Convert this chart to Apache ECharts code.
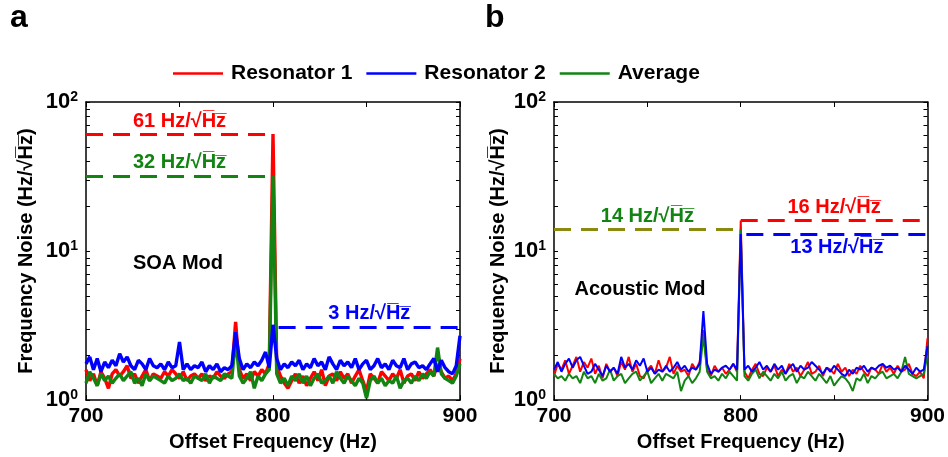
<!DOCTYPE html>
<html>
<head>
<meta charset="utf-8">
<script src="https://cdn.jsdelivr.net/npm/echarts@6/dist/echarts.min.js"></script>
<style>
  html,body{margin:0;padding:0;background:#fff;}
  #chart{width:948px;height:457px;}
</style>
</head>
<body>
<div id="chart"></div>
<script>
'use strict';
// offset frequency, 2 Hz steps from 700 to 900
var freq = [];
for (var f = 700; f <= 900; f += 2) { freq.push(f); }

// panel a : SOA modulation
var res1A = [
  1.6,1.35,1.5,1.25,1.55,1.4,1.2,1.5,1.6,1.45,
  1.55,1.7,1.4,1.5,1.3,1.45,1.6,1.35,1.5,1.45,
  1.4,1.55,1.45,1.6,1.5,1.4,1.55,1.35,1.45,1.5,
  1.4,1.5,1.35,1.45,1.4,1.55,1.45,1.4,1.5,1.55,
  3.35,1.6,1.4,1.5,1.35,1.55,1.45,1.6,1.5,1.75,
  61,1.7,1.45,1.3,1.2,1.35,1.5,1.3,1.45,1.25,
  1.4,1.55,1.35,1.6,1.25,1.45,1.5,1.35,1.55,1.4,
  1.5,1.3,1.45,1.6,1.35,1.15,1.5,1.4,1.3,1.55,
  1.45,1.35,1.5,1.4,1.6,1.3,1.45,1.5,1.35,1.55,
  1.4,1.5,1.6,1.45,1.75,1.55,1.4,1.45,1.35,1.5,
  1.9
];
var res2A = [
  1.75,1.95,1.6,1.9,1.55,1.8,1.65,1.85,1.7,2.05,
  1.8,1.95,1.7,1.6,1.85,1.75,1.6,1.9,1.7,1.65,
  1.75,1.6,1.8,1.65,1.7,2.45,1.6,1.75,1.6,1.7,
  1.65,1.8,1.55,1.7,1.6,1.75,1.55,1.65,1.6,1.7,
  2.85,1.9,1.6,1.75,1.65,1.8,1.7,1.85,2.1,1.65,
  3.2,1.9,1.6,1.75,1.65,1.8,1.7,1.85,1.6,1.75,
  1.65,1.9,1.7,1.8,1.6,1.95,1.75,1.6,1.85,1.7,
  1.8,1.65,1.9,1.6,1.75,1.85,1.6,1.7,1.9,1.65,
  1.75,1.6,1.85,1.7,1.65,1.9,1.6,1.75,1.8,1.65,
  1.7,1.6,1.75,1.9,1.55,1.85,1.65,1.55,1.5,1.7,
  2.7
];
var avgA = [
  1.3,1.55,1.4,1.25,1.5,1.35,1.45,1.3,1.4,1.5,
  1.35,1.45,1.55,1.3,1.4,1.25,1.5,1.35,1.45,1.4,
  1.35,1.3,1.45,1.35,1.4,1.5,1.35,1.4,1.3,1.45,
  1.4,1.35,1.5,1.3,1.45,1.4,1.35,1.5,1.45,1.4,
  2.6,1.45,1.3,1.4,1.55,1.2,1.45,1.35,1.5,1.6,
  32,1.5,1.3,1.4,1.25,1.45,1.35,1.5,1.3,1.45,
  1.25,1.4,1.5,1.3,1.35,1.45,1.3,1.55,1.4,1.3,
  1.45,1.35,1.25,1.4,1.3,1.03,1.35,1.45,1.3,1.4,
  1.25,1.35,1.3,1.45,1.2,1.35,1.4,1.3,1.45,1.35,
  1.5,1.4,1.55,1.45,2.25,1.5,1.4,1.35,1.3,1.45,
  1.75
];

// panel b : acoustic modulation
var res1B = [
  1.45,1.75,1.6,1.85,1.5,1.7,1.95,1.55,1.8,1.65,
  1.9,1.5,1.7,1.4,1.75,1.55,1.65,1.45,1.8,1.6,
  1.95,1.55,1.75,1.45,1.4,1.6,1.7,1.5,1.85,1.55,
  1.65,1.95,1.5,1.7,1.55,1.6,1.45,1.75,1.6,1.8,
  2.95,1.6,1.45,1.7,1.55,1.65,1.5,1.6,1.75,1.55,
  16,1.55,1.4,1.6,1.75,1.5,1.45,1.65,1.55,1.7,
  1.45,1.6,1.5,1.75,1.55,1.65,1.45,1.6,1.8,1.5,
  1.55,1.7,1.45,1.65,1.6,1.5,1.75,1.55,1.65,1.45,
  1.6,1.5,1.7,1.55,1.45,1.65,1.6,1.5,1.75,1.55,
  1.65,1.5,1.7,1.55,1.6,1.75,1.5,1.45,1.55,1.4,
  2.6
];
var res2B = [
  1.6,1.8,1.55,1.75,1.9,1.65,1.85,1.95,1.7,1.5,
  1.55,1.75,1.6,1.45,1.7,1.55,1.65,1.5,1.95,1.65,
  1.75,1.6,1.85,1.7,1.9,1.55,1.65,1.5,1.6,1.55,
  1.7,1.55,1.65,1.8,1.6,1.7,1.55,1.65,1.6,1.75,
  3.95,1.75,1.5,1.6,1.55,1.65,1.7,1.6,1.75,1.6,
  13,1.6,1.7,1.55,1.65,1.8,1.6,1.7,1.55,1.75,
  1.6,1.7,1.5,1.65,1.75,1.55,1.7,1.6,1.65,1.8,
  1.7,1.6,1.5,1.65,1.55,1.7,1.6,1.5,1.45,1.6,
  1.5,1.65,1.6,1.7,1.55,1.65,1.6,1.7,1.75,1.65,
  1.7,1.6,1.65,1.55,1.7,1.6,1.5,1.65,1.55,1.6,
  2.3
];
var avgB = [
  1.5,1.4,1.45,1.35,1.5,1.4,1.45,1.3,1.55,1.4,
  1.45,1.3,1.5,1.35,1.4,1.6,1.35,1.45,1.5,1.3,
  1.4,1.5,1.55,1.35,1.45,1.55,1.3,1.4,1.5,1.35,
  1.5,1.45,1.4,1.55,1.15,1.35,1.45,1.3,1.4,1.55,
  2.7,1.55,1.4,1.45,1.35,1.5,1.4,1.55,1.45,1.35,
  14,1.45,1.35,1.5,1.6,1.4,1.55,1.45,1.35,1.5,
  1.4,1.55,1.35,1.45,1.5,1.3,1.45,1.4,1.55,1.45,
  1.35,1.5,1.4,1.3,1.45,1.25,1.35,1.45,1.4,1.3,
  1.15,1.4,1.35,1.5,1.3,1.45,1.4,1.5,1.55,1.4,
  1.45,1.5,1.4,1.55,1.95,1.5,1.45,1.4,1.45,1.5,
  2.0
];

// dashed peak levels: [from, to, level, label]
var levelsA = [[700, 800, 61, '61'], [700, 800, 32, '32'], [803, 900, 3.1, '3']];
var levelsB = [[800, 900, 16, '16'], [700, 800, 14, '14'], [803, 900, 13, '13']];

var xTicks = [700, 750, 800, 850, 900];
var xLabels = [700, 800, 900];
var yMinor = [1, 2, 3, 4, 5, 6, 7, 8, 9, 10, 20, 30, 40, 50, 60, 70, 80, 90, 100];

var RED = '#ff0000', BLUE = '#0000ff', GREEN = '#128412', OLIVE = '#8a8a10';
var FONT = '"Liberation Sans", Arial, sans-serif';
var UNIT = ' Hz/\u221aH\u0305z\u0305';

function pairs(vals) {
  return freq.map(function (f, i) { return [f, vals[i]]; });
}

function levelLine(lv, lineColor, textColor, pos) {
  return [
    {coord: [lv[0], lv[2]], lineStyle: {color: lineColor},
     label: {show: true, formatter: lv[3] + UNIT, color: textColor, position: pos}},
    {coord: [lv[1], lv[2]]}
  ];
}

function mark(list) {
  return {
    silent: true, symbol: ['none', 'none'], animation: false,
    lineStyle: {type: [17, 10], width: 2.8},
    label: {fontFamily: FONT, fontWeight: 'bold', fontSize: 20, distance: 3},
    data: list
  };
}

function xAx(gi, top) {
  return {
    type: 'value', gridIndex: gi, min: 700, max: 900, interval: 50,
    position: top ? 'top' : 'bottom',
    name: top ? '' : 'Offset Frequency (Hz)', nameLocation: 'middle', nameGap: 28,
    nameTextStyle: {fontFamily: FONT, fontWeight: 'bold', fontSize: 20, color: '#000'},
    axisLine: {lineStyle: {color: '#000', width: 1.5}},
    axisTick: {inside: true, length: 5, lineStyle: {color: '#000'}, customValues: xTicks},
    axisLabel: {show: !top, customValues: xLabels, fontFamily: FONT, fontWeight: 'bold',
      fontSize: 21, color: '#000', margin: 6},
    splitLine: {show: false}
  };
}

function yAx(gi, right, gap) {
  return {
    type: 'log', gridIndex: gi, min: 1, max: 100, logBase: 10,
    position: right ? 'right' : 'left',
    name: right ? '' : 'Frequency Noise (Hz/\u221aH\u0305z\u0305)', nameLocation: 'middle', nameGap: gap,
    nameTextStyle: {fontFamily: FONT, fontWeight: 'bold', fontSize: 20, color: '#000'},
    axisLine: {show: true, lineStyle: {color: '#000', width: 1.5}},
    axisTick: {inside: true, length: 4, lineStyle: {color: '#000'}, customValues: yMinor},
    axisLabel: {show: !right, margin: 8,
      formatter: function (v) { return '{b|10}{s|' + Math.round(Math.log10(v)) + '}'; },
      rich: {
        b: {fontFamily: FONT, fontWeight: 'bold', fontSize: 22, color: '#000', lineHeight: 24},
        s: {fontFamily: FONT, fontWeight: 'bold', fontSize: 14, color: '#000', verticalAlign: 'top', lineHeight: 24}
      }},
    splitLine: {show: false}
  };
}

function line(name, vals, color, gi, width, ml) {
  var s = {
    name: name, type: 'line', xAxisIndex: gi * 2, yAxisIndex: gi * 2,
    data: pairs(vals), symbol: 'none', color: color,
    lineStyle: {color: color, width: width}, animation: false
  };
  if (ml) { s.markLine = ml; }
  return s;
}

var chart = echarts.init(document.getElementById('chart'));
var option = {
  backgroundColor: '#fff',
  legend: {
    data: ['Resonator 1', 'Resonator 2', 'Average'],
    left: 168, top: 58, icon: 'rect', itemWidth: 50, itemHeight: 2.5, itemGap: 14,
    textStyle: {fontFamily: FONT, fontWeight: 'bold', fontSize: 21, color: '#000', padding: [0, 0, 0, 3]}
  },
  grid: [
    {left: 86, top: 102, width: 374, height: 299},
    {left: 554, top: 102, width: 375, height: 299}
  ],
  xAxis: [xAx(0, false), xAx(0, true), xAx(1, false), xAx(1, true)],
  yAxis: [yAx(0, false, 50), yAx(0, true, 0), yAx(1, false, 46), yAx(1, true, 0)],
  graphic: [
    {type: 'text', left: 10, top: 2, style: {text: 'a', font: 'bold 32px ' + FONT, fill: '#000'}},
    {type: 'text', left: 485, top: 2, style: {text: 'b', font: 'bold 32px ' + FONT, fill: '#000'}},
    {type: 'text', x: 178, y: 263, style: {text: 'SOA Mod', font: 'bold 20px ' + FONT, fill: '#000', align: 'center', verticalAlign: 'middle'}},
    {type: 'text', x: 640, y: 289, style: {text: 'Acoustic Mod', font: 'bold 20px ' + FONT, fill: '#000', align: 'center', verticalAlign: 'middle'}}
  ],
  series: [
    line('Resonator 1', res1A, RED, 0, 3.4, mark([levelLine(levelsA[0], RED, RED, 'insideMiddleTop')])),
    line('Average', avgA, GREEN, 0, 3.4, mark([levelLine(levelsA[1], GREEN, GREEN, 'insideMiddleTop')])),
    line('Resonator 2', res2A, BLUE, 0, 3.4, mark([levelLine(levelsA[2], BLUE, BLUE, 'insideMiddleTop')])),
    line('Resonator 1', res1B, RED, 1, 2, mark([levelLine(levelsB[0], RED, RED, 'insideMiddleTop')])),
    line('Average', avgB, GREEN, 1, 2, mark([levelLine(levelsB[1], OLIVE, GREEN, 'insideMiddleTop')])),
    line('Resonator 2', res2B, BLUE, 1, 2, mark([levelLine(levelsB[2], BLUE, BLUE, 'insideMiddleBottom')]))
  ]
};
chart.setOption(option);
</script>
</body>
</html>
